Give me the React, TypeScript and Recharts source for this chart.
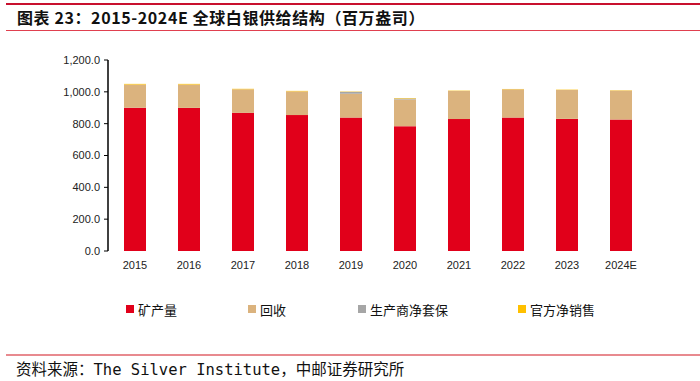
import React from 'react';
import { BarChart, Bar, XAxis, YAxis } from 'recharts';

const years = ['2015', '2016', '2017', '2018', '2019', '2020', '2021', '2022', '2023', '2024E'];
const mineProduction = [900, 899, 868, 854, 838, 784, 829, 838, 830, 826];
const recycling = [146, 147, 148, 149, 150, 168, 177, 178, 182, 182];
const producerHedging = [0, 0, 0, 0, 12, 6, 0, 0, 0, 0];
const officialSales = [4, 4, 3, 3, 2, 3, 2, 2, 2, 2];
const yTicks = [0, 200, 400, 600, 800, 1000, 1200];
const boundaryTicks = [0, 1, 2, 3, 4, 5, 6, 7, 8, 9, 10];

const seriesNames = ['矿产量', '回收', '生产商净套保', '官方净销售'];
const seriesColors = ['#E1001A', '#DBB37E', '#A6A6A6', '#FFC000'];
const seriesKeys = ['mine', 'recycle', 'hedge', 'official'];

const data = years.map((y, i) => ({
  year: y,
  mine: mineProduction[i],
  recycle: recycling[i],
  hedge: producerHedging[i],
  official: officialSales[i],
}));

const legendX = [126, 248, 358, 518];

const fmt = (v: number) =>
  v.toLocaleString('en-US', { minimumFractionDigits: 1, maximumFractionDigits: 1 });

export default function App() {
  return (
    <div style={{ position: 'absolute', left: 0, top: 0, width: 700, height: 381, background: '#fff', overflow: 'hidden' }}>
      <div style={{ position: 'absolute', left: 6, right: 0, top: 3, height: 2, background: '#C8102E' }} />
      <div
        style={{
          position: 'absolute',
          left: 17,
          top: 6,
          fontFamily: '"Noto Sans CJK SC", sans-serif',
          fontWeight: 700,
          fontSize: 16,
          letterSpacing: 0.6,
          lineHeight: '22px',
          color: '#111',
          whiteSpace: 'nowrap',
        }}
      >
        图表 23：2015-2024E 全球白银供给结构（百万盎司）
      </div>
      <div style={{ position: 'absolute', left: 6, right: 0, top: 30, height: 1, background: '#E0404F' }} />

      <div style={{ position: 'absolute', left: 0, top: 0 }}>
        <BarChart
          width={700}
          height={381}
          data={data}
          margin={{ top: 60, right: 52, left: 0, bottom: 110 }}
          barSize={22}
        >
          <XAxis
            xAxisId="b"
            type="number"
            domain={[0, 10]}
            ticks={boundaryTicks}
            tickFormatter={() => ''}
            height={0}
            tickSize={4}
            axisLine={{ stroke: '#000', strokeWidth: 1.5 }}
            tickLine={{ stroke: '#000', strokeWidth: 1.5 }}
            allowDataOverflow
          />
          <XAxis
            dataKey="year"
            height={20}
            axisLine={false}
            tickLine={false}
            tickSize={4}
            tickMargin={6}
            interval={0}
            tick={{ fill: '#222', fontSize: 11, fontFamily: '"Liberation Sans", Arial, sans-serif' }}
          />
          <YAxis
            width={108}
            domain={[0, 1200]}
            ticks={yTicks}
            tickFormatter={fmt}
            tickSize={4}
            tickMargin={4}
            axisLine={{ stroke: '#000', strokeWidth: 1.5 }}
            tickLine={{ stroke: '#000', strokeWidth: 1 }}
            tick={{ fill: '#222', fontSize: 11, fontFamily: '"Liberation Sans", Arial, sans-serif' }}
            interval={0}
          />
          {seriesKeys.map((k, i) => (
            <Bar key={k} dataKey={k} stackId="s" fill={seriesColors[i]} isAnimationActive={false} />
          ))}
        </BarChart>
      </div>

      {seriesNames.map((n, i) => (
        <div
          key={n}
          style={{
            position: 'absolute',
            left: legendX[i],
            top: 300,
            height: 18,
            display: 'flex',
            alignItems: 'center',
            fontFamily: '"Noto Sans CJK SC", sans-serif',
            fontSize: 13,
            color: '#111',
            whiteSpace: 'nowrap',
          }}
        >
          <span style={{ display: 'inline-block', width: 8, height: 8, background: seriesColors[i], marginRight: 4 }} />
          {n}
        </div>
      ))}

      <div style={{ position: 'absolute', left: 6, right: 0, top: 354, height: 1.5, background: '#E88A8F' }} />
      <div
        style={{
          position: 'absolute',
          left: 16,
          top: 358,
          fontFamily: '"DejaVu Sans Mono", "Noto Sans CJK SC", monospace',
          fontSize: 15.5,
          lineHeight: '20px',
          color: '#111',
          whiteSpace: 'nowrap',
        }}
      >
        <span style={{ fontFamily: '"Noto Sans CJK SC", sans-serif' }}>资料来源：</span>
        The Silver Institute
        <span style={{ fontFamily: '"Noto Sans CJK SC", sans-serif' }}>，中邮证券研究所</span>
      </div>
    </div>
  );
}
